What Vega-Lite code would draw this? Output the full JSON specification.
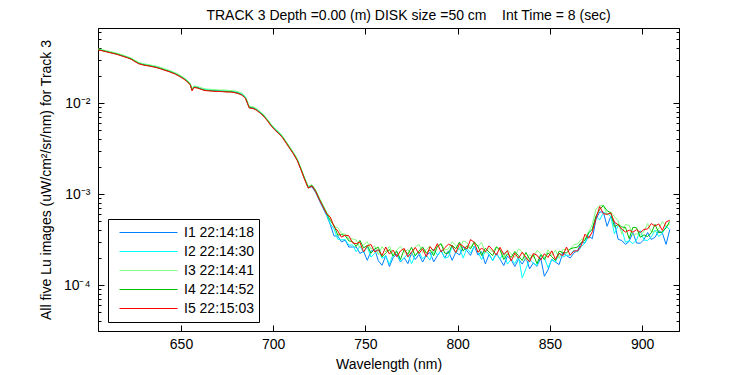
{
  "$schema": "https://vega.github.io/schema/vega-lite/v6.json",
  "width": 581,
  "height": 303,
  "autosize": {"type": "none"},
  "padding": {"left": 98, "top": 28, "right": 71, "bottom": 44},
  "background": "white",
  "title": {"text": "TRACK 3 Depth =0.00 (m) DISK size =50 cm \u00a0\u00a0\u00a0Int Time = 8 (sec)", "fontSize": 14, "fontWeight": "normal", "font": "Liberation Sans", "color": "black", "anchor": "middle", "offset": 2, "dx": 20},
  "data": {"values": [
    {"nm":605,"a":3.85e-2,"b":3.88e-2,"c":3.93e-2,"d":3.86e-2,"e":3.82e-2},
    {"nm":607,"a":3.80e-2,"b":3.83e-2,"c":3.87e-2,"d":3.79e-2,"e":3.76e-2},
    {"nm":609,"a":3.72e-2,"b":3.70e-2,"c":3.78e-2,"d":3.71e-2,"e":3.67e-2},
    {"nm":611,"a":3.63e-2,"b":3.66e-2,"c":3.70e-2,"d":3.62e-2,"e":3.59e-2},
    {"nm":613,"a":3.55e-2,"b":3.57e-2,"c":3.62e-2,"d":3.54e-2,"e":3.51e-2},
    {"nm":615,"a":3.48e-2,"b":3.46e-2,"c":3.54e-2,"d":3.47e-2,"e":3.43e-2},
    {"nm":617,"a":3.38e-2,"b":3.40e-2,"c":3.44e-2,"d":3.36e-2,"e":3.33e-2},
    {"nm":619,"a":3.27e-2,"b":3.29e-2,"c":3.34e-2,"d":3.26e-2,"e":3.23e-2},
    {"nm":621,"a":3.17e-2,"b":3.20e-2,"c":3.23e-2,"d":3.16e-2,"e":3.13e-2},
    {"nm":623,"a":3.06e-2,"b":3.09e-2,"c":3.12e-2,"d":3.05e-2,"e":3.02e-2},
    {"nm":625,"a":2.89e-2,"b":2.91e-2,"c":2.95e-2,"d":2.88e-2,"e":2.85e-2},
    {"nm":627,"a":2.74e-2,"b":2.76e-2,"c":2.80e-2,"d":2.73e-2,"e":2.70e-2},
    {"nm":629,"a":2.66e-2,"b":2.69e-2,"c":2.72e-2,"d":2.65e-2,"e":2.63e-2},
    {"nm":631,"a":2.61e-2,"b":2.64e-2,"c":2.67e-2,"d":2.60e-2,"e":2.58e-2},
    {"nm":633,"a":2.57e-2,"b":2.59e-2,"c":2.63e-2,"d":2.56e-2,"e":2.54e-2},
    {"nm":635,"a":2.52e-2,"b":2.54e-2,"c":2.58e-2,"d":2.51e-2,"e":2.49e-2},
    {"nm":637,"a":2.47e-2,"b":2.49e-2,"c":2.53e-2,"d":2.46e-2,"e":2.44e-2},
    {"nm":639,"a":2.40e-2,"b":2.42e-2,"c":2.46e-2,"d":2.39e-2,"e":2.37e-2},
    {"nm":641,"a":2.32e-2,"b":2.34e-2,"c":2.38e-2,"d":2.31e-2,"e":2.29e-2},
    {"nm":643,"a":2.26e-2,"b":2.28e-2,"c":2.31e-2,"d":2.25e-2,"e":2.23e-2},
    {"nm":645,"a":2.18e-2,"b":2.20e-2,"c":2.23e-2,"d":2.17e-2,"e":2.15e-2},
    {"nm":647,"a":2.10e-2,"b":2.12e-2,"c":2.15e-2,"d":2.09e-2,"e":2.07e-2},
    {"nm":649,"a":2.00e-2,"b":2.02e-2,"c":2.05e-2,"d":1.99e-2,"e":1.97e-2},
    {"nm":651,"a":1.89e-2,"b":1.90e-2,"c":1.93e-2,"d":1.88e-2,"e":1.86e-2},
    {"nm":653,"a":1.77e-2,"b":1.78e-2,"c":1.81e-2,"d":1.76e-2,"e":1.74e-2},
    {"nm":655,"a":1.61e-2,"b":1.62e-2,"c":1.65e-2,"d":1.60e-2,"e":1.58e-2},
    {"nm":656,"a":1.39e-2,"b":1.40e-2,"c":1.43e-2,"d":1.38e-2,"e":1.36e-2},
    {"nm":657,"a":1.50e-2,"b":1.52e-2,"c":1.54e-2,"d":1.49e-2,"e":1.48e-2},
    {"nm":659,"a":1.48e-2,"b":1.50e-2,"c":1.52e-2,"d":1.47e-2,"e":1.46e-2},
    {"nm":661,"a":1.43e-2,"b":1.45e-2,"c":1.47e-2,"d":1.42e-2,"e":1.41e-2},
    {"nm":663,"a":1.39e-2,"b":1.41e-2,"c":1.43e-2,"d":1.38e-2,"e":1.37e-2},
    {"nm":665,"a":1.38e-2,"b":1.40e-2,"c":1.42e-2,"d":1.37e-2,"e":1.36e-2},
    {"nm":667,"a":1.37e-2,"b":1.39e-2,"c":1.41e-2,"d":1.36e-2,"e":1.35e-2},
    {"nm":669,"a":1.36e-2,"b":1.38e-2,"c":1.40e-2,"d":1.35e-2,"e":1.34e-2},
    {"nm":671,"a":1.36e-2,"b":1.37e-2,"c":1.39e-2,"d":1.35e-2,"e":1.34e-2},
    {"nm":673,"a":1.35e-2,"b":1.37e-2,"c":1.39e-2,"d":1.34e-2,"e":1.33e-2},
    {"nm":675,"a":1.34e-2,"b":1.36e-2,"c":1.38e-2,"d":1.33e-2,"e":1.32e-2},
    {"nm":677,"a":1.34e-2,"b":1.35e-2,"c":1.37e-2,"d":1.33e-2,"e":1.32e-2},
    {"nm":679,"a":1.32e-2,"b":1.34e-2,"c":1.36e-2,"d":1.31e-2,"e":1.30e-2},
    {"nm":681,"a":1.29e-2,"b":1.31e-2,"c":1.33e-2,"d":1.28e-2,"e":1.27e-2},
    {"nm":683,"a":1.24e-2,"b":1.26e-2,"c":1.28e-2,"d":1.23e-2,"e":1.22e-2},
    {"nm":685,"a":1.14e-2,"b":1.16e-2,"c":1.18e-2,"d":1.13e-2,"e":1.12e-2},
    {"nm":687,"a":8.95e-3,"b":9.05e-3,"c":9.20e-3,"d":8.90e-3,"e":8.81e-3},
    {"nm":689,"a":8.85e-3,"b":8.95e-3,"c":9.10e-3,"d":8.80e-3,"e":8.71e-3},
    {"nm":691,"a":8.45e-3,"b":8.55e-3,"c":8.70e-3,"d":8.40e-3,"e":8.32e-3},
    {"nm":693,"a":7.83e-3,"b":7.92e-3,"c":8.05e-3,"d":7.79e-3,"e":7.71e-3},
    {"nm":695,"a":7.19e-3,"b":7.27e-3,"c":7.40e-3,"d":7.15e-3,"e":7.08e-3},
    {"nm":697,"a":6.41e-3,"b":6.48e-3,"c":6.59e-3,"d":6.37e-3,"e":6.31e-3},
    {"nm":699,"a":5.65e-3,"b":5.71e-3,"c":5.81e-3,"d":5.62e-3,"e":5.56e-3},
    {"nm":701,"a":5.09e-3,"b":5.15e-3,"c":5.24e-3,"d":5.06e-3,"e":5.01e-3},
    {"nm":703,"a":4.69e-3,"b":4.75e-3,"c":4.83e-3,"d":4.67e-3,"e":4.62e-3},
    {"nm":705,"a":4.24e-3,"b":4.29e-3,"c":4.36e-3,"d":4.21e-3,"e":4.17e-3},
    {"nm":707,"a":3.69e-3,"b":3.73e-3,"c":3.79e-3,"d":3.67e-3,"e":3.63e-3},
    {"nm":709,"a":3.21e-3,"b":3.25e-3,"c":3.30e-3,"d":3.19e-3,"e":3.16e-3},
    {"nm":711,"a":2.79e-3,"b":2.83e-3,"c":2.87e-3,"d":2.78e-3,"e":2.75e-3},
    {"nm":713,"a":2.38e-3,"b":2.41e-3,"c":2.45e-3,"d":2.37e-3,"e":2.34e-3},
    {"nm":715,"a":1.89e-3,"b":1.91e-3,"c":1.94e-3,"d":1.88e-3,"e":1.86e-3},
    {"nm":717,"a":1.47e-3,"b":1.49e-3,"c":1.52e-3,"d":1.47e-3,"e":1.45e-3},
    {"nm":719,"a":1.18e-3,"b":1.20e-3,"c":1.22e-3,"d":1.17e-3,"e":1.16e-3},
    {"nm":721,"a":1.20e-3,"b":1.25e-3,"c":1.27e-3,"d":1.24e-3,"e":1.23e-3},
    {"nm":723,"a":1.04e-3,"b":1.09e-3,"c":1.11e-3,"d":1.08e-3,"e":1.07e-3},
    {"nm":725,"a":8.50e-4,"b":8.90e-4,"c":9.10e-4,"d":8.80e-4,"e":8.71e-4},
    {"nm":727,"a":7.00e-4,"b":7.20e-4,"c":7.60e-4,"d":7.35e-4,"e":7.24e-4},
    {"nm":729,"a":5.80e-4,"b":5.95e-4,"c":6.30e-4,"d":6.10e-4,"e":6.03e-4},
    {"nm":731,"a":4.59e-4,"b":4.70e-4,"c":5.49e-4,"d":5.09e-4,"e":5.57e-4},
    {"nm":733,"a":3.46e-4,"b":4.13e-4,"c":4.40e-4,"d":4.51e-4,"e":4.36e-4},
    {"nm":735,"a":3.46e-4,"b":3.19e-4,"c":4.30e-4,"d":3.54e-4,"e":3.93e-4},
    {"nm":737,"a":2.98e-4,"b":3.14e-4,"c":3.68e-4,"d":3.59e-4,"e":3.36e-4},
    {"nm":739,"a":3.12e-4,"b":3.17e-4,"c":3.64e-4,"d":3.49e-4,"e":3.53e-4},
    {"nm":741,"a":2.62e-4,"b":2.75e-4,"c":3.21e-4,"d":3.06e-4,"e":3.48e-4},
    {"nm":743,"a":2.62e-4,"b":2.76e-4,"c":3.22e-4,"d":3.00e-4,"e":2.91e-4},
    {"nm":745,"a":2.62e-4,"b":2.32e-4,"c":3.12e-4,"d":2.66e-4,"e":2.85e-4},
    {"nm":747,"a":2.23e-4,"b":2.68e-4,"c":2.57e-4,"d":3.10e-4,"e":2.96e-4},
    {"nm":749,"a":2.34e-4,"b":2.26e-4,"c":2.77e-4,"d":2.56e-4,"e":2.31e-4},
    {"nm":751,"a":1.87e-4,"b":2.65e-4,"c":2.99e-4,"d":2.73e-4,"e":2.70e-4},
    {"nm":753,"a":2.36e-4,"b":2.03e-4,"c":2.49e-4,"d":2.24e-4,"e":2.79e-4},
    {"nm":755,"a":2.48e-4,"b":2.23e-4,"c":2.70e-4,"d":2.50e-4,"e":2.31e-4},
    {"nm":757,"a":1.85e-4,"b":2.43e-4,"c":2.16e-4,"d":2.60e-4,"e":2.45e-4},
    {"nm":759,"a":1.65e-4,"b":1.97e-4,"c":2.65e-4,"d":2.04e-4,"e":2.11e-4},
    {"nm":761,"a":2.11e-4,"b":2.09e-4,"c":2.32e-4,"d":2.25e-4,"e":2.62e-4},
    {"nm":763,"a":1.60e-4,"b":1.70e-4,"c":2.67e-4,"d":2.46e-4,"e":2.19e-4},
    {"nm":765,"a":2.01e-4,"b":2.17e-4,"c":2.17e-4,"d":2.08e-4,"e":2.42e-4},
    {"nm":767,"a":2.17e-4,"b":2.35e-4,"c":2.42e-4,"d":2.35e-4,"e":2.05e-4},
    {"nm":769,"a":1.79e-4,"b":1.82e-4,"c":2.67e-4,"d":1.91e-4,"e":2.37e-4},
    {"nm":771,"a":2.00e-4,"b":2.00e-4,"c":2.30e-4,"d":2.46e-4,"e":2.53e-4},
    {"nm":773,"a":1.72e-4,"b":2.18e-4,"c":2.46e-4,"d":2.18e-4,"e":2.04e-4},
    {"nm":775,"a":2.27e-4,"b":1.72e-4,"c":2.11e-4,"d":2.60e-4,"e":2.30e-4},
    {"nm":777,"a":1.91e-4,"b":2.14e-4,"c":2.61e-4,"d":2.10e-4,"e":2.59e-4},
    {"nm":779,"a":2.17e-4,"b":2.31e-4,"c":2.81e-4,"d":2.36e-4,"e":2.22e-4},
    {"nm":781,"a":1.79e-4,"b":1.94e-4,"c":2.27e-4,"d":2.63e-4,"e":2.51e-4},
    {"nm":783,"a":2.12e-4,"b":2.14e-4,"c":2.46e-4,"d":2.24e-4,"e":2.05e-4},
    {"nm":785,"a":2.29e-4,"b":1.88e-4,"c":2.68e-4,"d":2.44e-4,"e":2.64e-4},
    {"nm":787,"a":1.80e-4,"b":2.49e-4,"c":2.22e-4,"d":2.10e-4,"e":2.37e-4},
    {"nm":789,"a":2.10e-4,"b":2.13e-4,"c":2.70e-4,"d":2.65e-4,"e":2.85e-4},
    {"nm":791,"a":2.41e-4,"b":2.38e-4,"c":2.86e-4,"d":2.84e-4,"e":2.31e-4},
    {"nm":793,"a":1.99e-4,"b":1.97e-4,"c":2.44e-4,"d":2.24e-4,"e":2.57e-4},
    {"nm":795,"a":2.37e-4,"b":2.04e-4,"c":2.50e-4,"d":2.24e-4,"e":2.81e-4},
    {"nm":797,"a":1.87e-4,"b":2.65e-4,"c":2.99e-4,"d":2.73e-4,"e":2.70e-4},
    {"nm":799,"a":2.30e-4,"b":2.22e-4,"c":2.72e-4,"d":2.51e-4,"e":2.27e-4},
    {"nm":801,"a":2.14e-4,"b":2.57e-4,"c":2.47e-4,"d":2.97e-4,"e":2.84e-4},
    {"nm":803,"a":2.63e-4,"b":1.98e-4,"c":3.06e-4,"d":2.36e-4,"e":2.66e-4},
    {"nm":805,"a":2.38e-4,"b":2.55e-4,"c":2.93e-4,"d":2.71e-4,"e":2.49e-4},
    {"nm":807,"a":2.12e-4,"b":2.26e-4,"c":2.59e-4,"d":2.50e-4,"e":3.16e-4},
    {"nm":809,"a":2.69e-4,"b":2.69e-4,"c":3.02e-4,"d":2.94e-4,"e":2.94e-4},
    {"nm":811,"a":2.13e-4,"b":2.29e-4,"c":2.66e-4,"d":2.68e-4,"e":2.29e-4},
    {"nm":813,"a":2.33e-4,"b":1.91e-4,"c":2.94e-4,"d":2.11e-4,"e":2.56e-4},
    {"nm":815,"a":1.71e-4,"b":2.37e-4,"c":2.27e-4,"d":2.54e-4,"e":2.32e-4},
    {"nm":817,"a":2.17e-4,"b":2.19e-4,"c":2.53e-4,"d":2.31e-4,"e":2.70e-4},
    {"nm":819,"a":1.87e-4,"b":1.85e-4,"c":2.30e-4,"d":2.11e-4,"e":2.42e-4},
    {"nm":821,"a":2.23e-4,"b":2.20e-4,"c":2.64e-4,"d":2.62e-4,"e":2.13e-4},
    {"nm":823,"a":1.92e-4,"b":1.94e-4,"c":2.46e-4,"d":2.42e-4,"e":2.60e-4},
    {"nm":825,"a":1.64e-4,"b":2.27e-4,"c":2.03e-4,"d":1.91e-4,"e":2.16e-4},
    {"nm":827,"a":2.08e-4,"b":1.70e-4,"c":2.43e-4,"d":2.21e-4,"e":2.39e-4},
    {"nm":829,"a":1.90e-4,"b":1.92e-4,"c":2.20e-4,"d":2.01e-4,"e":1.84e-4},
    {"nm":831,"a":1.60e-4,"b":1.73e-4,"c":2.02e-4,"d":2.34e-4,"e":2.24e-4},
    {"nm":833,"a":1.93e-4,"b":2.06e-4,"c":2.50e-4,"d":2.10e-4,"e":1.97e-4},
    {"nm":835,"a":1.70e-4,"b":1.20e-4,"c":2.32e-4,"d":1.86e-4,"e":2.30e-4},
    {"nm":837,"a":2.00e-4,"b":1.51e-4,"c":1.86e-4,"d":2.28e-4,"e":2.02e-4},
    {"nm":839,"a":1.51e-4,"b":1.92e-4,"c":2.16e-4,"d":1.92e-4,"e":1.80e-4},
    {"nm":841,"a":1.75e-4,"b":1.75e-4,"c":2.02e-4,"d":2.16e-4,"e":2.22e-4},
    {"nm":843,"a":1.61e-4,"b":1.64e-4,"c":2.40e-4,"d":1.72e-4,"e":2.13e-4},
    {"nm":845,"a":1.99e-4,"b":2.15e-4,"c":2.22e-4,"d":2.15e-4,"e":1.88e-4},
    {"nm":847,"a":1.25e-4,"b":1.99e-4,"c":1.99e-4,"d":1.90e-4,"e":2.21e-4},
    {"nm":849,"a":1.47e-4,"b":1.55e-4,"c":2.44e-4,"d":2.26e-4,"e":2.01e-4},
    {"nm":851,"a":1.92e-4,"b":1.90e-4,"c":2.11e-4,"d":2.05e-4,"e":2.38e-4},
    {"nm":853,"a":1.79e-4,"b":1.79e-4,"c":2.42e-4,"d":1.86e-4,"e":1.92e-4},
    {"nm":855,"a":1.68e-4,"b":2.21e-4,"c":1.97e-4,"d":2.36e-4,"e":2.23e-4},
    {"nm":857,"a":2.26e-4,"b":2.03e-4,"c":2.46e-4,"d":2.28e-4,"e":2.10e-4},
    {"nm":859,"a":2.11e-4,"b":2.13e-4,"c":2.46e-4,"d":2.25e-4,"e":2.62e-4},
    {"nm":861,"a":1.98e-4,"b":2.13e-4,"c":2.47e-4,"d":2.50e-4,"e":2.13e-4},
    {"nm":863,"a":2.26e-4,"b":2.42e-4,"c":2.78e-4,"d":2.57e-4,"e":2.37e-4},
    {"nm":865,"a":2.39e-4,"b":2.31e-4,"c":2.83e-4,"d":2.61e-4,"e":2.37e-4},
    {"nm":867,"a":2.92e-4,"b":2.63e-4,"c":3.18e-4,"d":2.95e-4,"e":2.72e-4},
    {"nm":869,"a":2.91e-4,"b":2.88e-4,"c":3.20e-4,"d":3.10e-4,"e":3.62e-4},
    {"nm":871,"a":3.45e-4,"b":3.74e-4,"c":3.85e-4,"d":3.74e-4,"e":3.27e-4},
    {"nm":873,"a":3.23e-4,"b":4.11e-4,"c":4.63e-4,"d":4.11e-4,"e":3.85e-4},
    {"nm":875,"a":5.29e-4,"b":5.64e-4,"c":6.84e-4,"d":5.75e-4,"e":5.41e-4},
    {"nm":877,"a":6.35e-4,"b":5.21e-4,"c":7.44e-4,"d":6.76e-4,"e":7.30e-4},
    {"nm":879,"a":6.35e-4,"b":6.28e-4,"c":7.54e-4,"d":7.47e-4,"e":6.08e-4},
    {"nm":881,"a":4.42e-4,"b":6.12e-4,"c":5.87e-4,"d":6.56e-4,"e":5.99e-4},
    {"nm":883,"a":5.69e-4,"b":5.69e-4,"c":6.38e-4,"d":6.21e-4,"e":6.21e-4},
    {"nm":885,"a":4.86e-4,"b":3.66e-4,"c":5.66e-4,"d":4.36e-4,"e":4.91e-4},
    {"nm":887,"a":3.18e-4,"b":4.51e-4,"c":5.08e-4,"d":4.64e-4,"e":4.60e-4},
    {"nm":889,"a":3.09e-4,"b":4.07e-4,"c":3.62e-4,"d":4.35e-4,"e":4.11e-4},
    {"nm":891,"a":2.80e-4,"b":2.96e-4,"c":4.65e-4,"d":4.29e-4,"e":3.82e-4},
    {"nm":893,"a":3.03e-4,"b":3.07e-4,"c":4.51e-4,"d":3.23e-4,"e":4.01e-4},
    {"nm":895,"a":3.77e-4,"b":2.85e-4,"c":3.50e-4,"d":4.31e-4,"e":3.81e-4},
    {"nm":897,"a":2.90e-4,"b":3.13e-4,"c":3.68e-4,"d":4.26e-4,"e":4.06e-4},
    {"nm":899,"a":2.88e-4,"b":3.98e-4,"c":3.55e-4,"d":3.35e-4,"e":3.78e-4},
    {"nm":901,"a":3.16e-4,"b":3.12e-4,"c":3.88e-4,"d":3.56e-4,"e":4.08e-4},
    {"nm":903,"a":3.78e-4,"b":3.09e-4,"c":4.75e-4,"d":3.41e-4,"e":4.14e-4},
    {"nm":905,"a":3.17e-4,"b":3.38e-4,"c":3.87e-4,"d":3.75e-4,"e":4.74e-4},
    {"nm":907,"a":3.35e-4,"b":4.02e-4,"c":3.85e-4,"d":4.65e-4,"e":4.44e-4},
    {"nm":909,"a":3.97e-4,"b":3.42e-4,"c":4.18e-4,"d":3.76e-4,"e":4.70e-4},
    {"nm":911,"a":3.71e-4,"b":3.71e-4,"c":5.01e-4,"d":3.84e-4,"e":3.98e-4},
    {"nm":913,"a":2.80e-4,"b":4.44e-4,"c":4.44e-4,"d":4.25e-4,"e":4.94e-4},
    {"nm":915,"a":4.07e-4,"b":4.07e-4,"c":4.68e-4,"d":5.01e-4,"e":5.16e-4}
  ]},
  "transform": [{"fold": ["a", "b", "c", "d", "e"], "as": ["series", "lu"]}],
  "layer": [
    {
      "mark": {"type": "line", "strokeWidth": 1, "clip": true},
      "encoding": {
        "x": {"field": "nm", "type": "quantitative",
          "scale": {"domain": [605, 920], "nice": false, "zero": false},
          "axis": {"orient": "bottom", "values": [650, 700, 750, 800, 850, 900], "tickSize": -6, "labelPadding": 12, "title": "Wavelength (nm)", "titlePadding": 6, "labelOverlap": false}},
        "y": {"field": "lu", "type": "quantitative",
          "scale": {"type": "log", "domain": [3.13e-5, 0.0667], "nice": false},
          "axis": {"orient": "left",
            "values": [4e-5, 5e-5, 6e-5, 7e-5, 8e-5, 9e-5, 1e-4, 2e-4, 3e-4, 4e-4, 5e-4, 6e-4, 7e-4, 8e-4, 9e-4, 1e-3, 2e-3, 3e-3, 4e-3, 5e-3, 6e-3, 7e-3, 8e-3, 9e-3, 1e-2, 2e-2, 3e-2, 4e-2, 5e-2, 6e-2],
            "labelExpr": "datum.value == 0.01 ? '10\u207b\u00b2' : datum.value == 0.001 ? '10\u207b\u00b3' : datum.value == 0.0001 ? '10\u207b\u2074' : ''",
            "tickSize": {"condition": {"test": "datum.value == 0.01 || datum.value == 0.001 || datum.value == 0.0001", "value": -6}, "value": -3},
            "labelPadding": 14, "labelOverlap": false, "labelBound": false,
            "title": "All five Lu images (uW/cm\u00b2/sr/nm) for Track 3", "titlePadding": 10}},
        "color": {"field": "series", "type": "nominal",
          "scale": {"domain": ["a", "b", "c", "d", "e"], "range": ["#0080ff", "#00ffff", "#80ff80", "#00c000", "#ff0000"]},
          "legend": {"orient": "none", "legendX": 10, "legendY": 191, "title": null,
            "symbolType": "stroke", "symbolSize": 3364, "symbolStrokeWidth": 1, "clipHeight": 19, "rowPadding": 0,
            "labelFontSize": 14, "labelColor": "black", "labelOffset": 6, "padding": 4, "symbolOffset": 7,
            "strokeColor": "black", "fillColor": "white",
            "labelExpr": "datum.label == 'a' ? 'I1 22:14:18' : datum.label == 'b' ? 'I2 22:14:30' : datum.label == 'c' ? 'I3 22:14:41' : datum.label == 'd' ? 'I4 22:14:52' : 'I5 22:15:03'"}}
      }
    },
    {
      "mark": {"type": "line", "strokeOpacity": 0},
      "encoding": {
        "x": {"field": "nm", "type": "quantitative",
          "axis": {"orient": "top", "values": [650, 700, 750, 800, 850, 900], "tickSize": -6, "labels": false, "title": null}},
        "y": {"field": "lu", "type": "quantitative",
          "axis": {"orient": "right",
            "values": [4e-5, 5e-5, 6e-5, 7e-5, 8e-5, 9e-5, 1e-4, 2e-4, 3e-4, 4e-4, 5e-4, 6e-4, 7e-4, 8e-4, 9e-4, 1e-3, 2e-3, 3e-3, 4e-3, 5e-3, 6e-3, 7e-3, 8e-3, 9e-3, 1e-2, 2e-2, 3e-2, 4e-2, 5e-2, 6e-2],
            "tickSize": {"condition": {"test": "datum.value == 0.01 || datum.value == 0.001 || datum.value == 0.0001", "value": -6}, "value": -3},
            "labels": false, "title": null}},
        "detail": {"field": "series", "type": "nominal"}
      }
    }
  ],
  "resolve": {"axis": {"x": "independent", "y": "independent"}},
  "config": {
    "font": "Liberation Sans",
    "view": {"stroke": "black", "strokeWidth": 1},
    "axis": {"domainColor": "black", "tickColor": "black", "labelColor": "black", "titleColor": "black", "labelFontSize": 14, "titleFontSize": 14, "titleFontWeight": "normal", "grid": false, "domainWidth": 1, "tickWidth": 1}
  }
}
